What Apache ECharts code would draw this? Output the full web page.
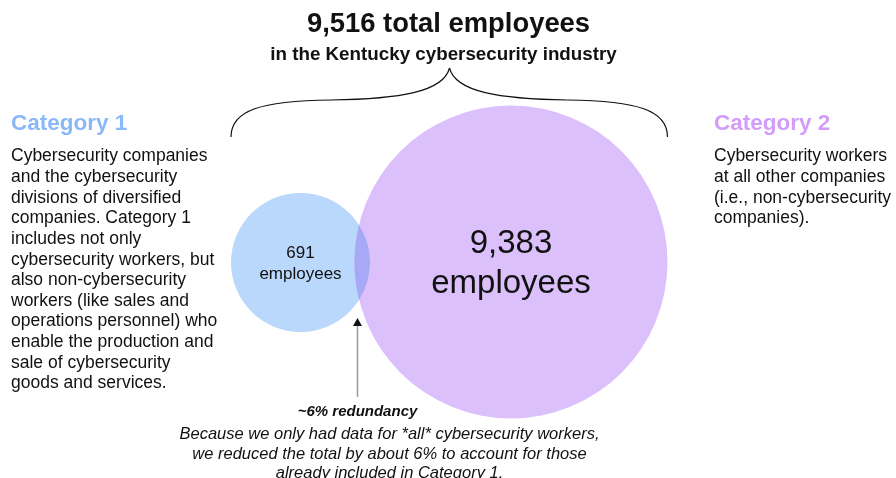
<!DOCTYPE html>
<html>
<head>
<meta charset="utf-8">
<script src="https://cdn.jsdelivr.net/npm/echarts@6/dist/echarts.min.js"></script>
<style>
  html, body { margin: 0; padding: 0; background: #fff; }
  #chart { width: 896px; height: 478px; }
</style>
</head>
<body>
<div id="chart"></div>
<script>
// Employee counts per category
const categories = ['Category 1', 'Category 2'];
const employees = [691, 9383];
const totalEmployees = 9516;
const redundancyPct = 6;

// Descriptions shown beside each category
const descriptions = [
  ['Cybersecurity companies', 'and the cybersecurity', 'divisions of diversified',
   'companies. Category 1', 'includes not only', 'cybersecurity workers, but',
   'also non-cybersecurity', 'workers (like sales and', 'operations personnel) who',
   'enable the production and', 'sale of cybersecurity', 'goods and services.'],
  ['Cybersecurity workers', 'at all other companies', '(i.e., non-cybersecurity', 'companies).']
];
const noteLines = [
  'Because we only had data for *all* cybersecurity workers,',
  'we reduced the total by about 6% to account for those',
  'already included in Category 1.'
];

// Diagram geometry (axis units): circle centres and radii
const layout = {
  cx: [300.5, 511],
  cy: [262.5, 262],
  r: [69.5, 156.5]
};
const fills = ['#bad8fb', '#dcc0fb'];
const overlapFill = '#a7a8f6';
const headColors = ['#8ab8f8', '#d39cf9'];
const labelFont = [17, 33];
const labelBase = [-3.5, -7];   // first label baseline relative to centre
const labelGap = [21, 40];

const FONT = '"Liberation Sans", Arial, Helvetica, sans-serif';
const fmt = v => v.toLocaleString('en-US');
// y for a 'middle'-aligned text so that its baseline lands on b
const mid = (b, fs) => b - 0.3465 * fs;

const chart = echarts.init(document.getElementById('chart'), null, { renderer: 'canvas' });

const circleData = categories.map((c, i) => ({
  name: c,
  value: [layout.cx[i], layout.cy[i], layout.r[i], employees[i]]
}));

// Lens-shaped path where two circles intersect (pixel space)
function lensPath(c1, r1, c2, r2) {
  const dx = c2[0] - c1[0], dy = c2[1] - c1[1];
  const d = Math.sqrt(dx * dx + dy * dy);
  if (d >= r1 + r2 || d <= Math.abs(r1 - r2)) return null;
  const a = (r1 * r1 - r2 * r2 + d * d) / (2 * d);
  const h = Math.sqrt(r1 * r1 - a * a);
  const mx = c1[0] + a * dx / d, my = c1[1] + a * dy / d;
  const p1 = [mx + h * dy / d, my - h * dx / d];
  const p2 = [mx - h * dy / d, my + h * dx / d];
  return 'M' + p1[0] + ' ' + p1[1] +
    ' A' + r1 + ' ' + r1 + ' 0 0 1 ' + p2[0] + ' ' + p2[1] +
    ' A' + r2 + ' ' + r2 + ' 0 0 1 ' + p1[0] + ' ' + p1[1] + ' Z';
}

function renderCircle(params, api) {
  const i = params.dataIndex;
  const c = api.coord([api.value(0), api.value(1)]);
  const r = api.size([api.value(2), 0])[0];
  const fs = labelFont[i];
  const b0 = c[1] + labelBase[i];
  const children = [{
    type: 'circle',
    shape: { cx: c[0], cy: c[1], r: r },
    style: { fill: fills[i] }
  }];
  if (i > 0) {
    const prev = circleData[i - 1].value;
    const pc = api.coord([prev[0], prev[1]]);
    const pr = api.size([prev[2], 0])[0];
    const d = lensPath(pc, pr, c, r);
    if (d) {
      children.push({ type: 'path', shape: { pathData: d }, style: { fill: overlapFill } });
    }
  }
  children.push(
    {
      type: 'text',
      style: {
        text: fmt(api.value(3)),
        x: c[0], y: mid(b0, fs),
        align: 'center', verticalAlign: 'middle',
        font: fs + 'px ' + FONT, fill: '#111'
      }
    },
    {
      type: 'text',
      style: {
        text: 'employees',
        x: c[0], y: mid(b0 + labelGap[i], fs),
        align: 'center', verticalAlign: 'middle',
        font: fs + 'px ' + FONT, fill: '#111'
      }
    }
  );
  return { type: 'group', children: children };
}

function textEl(text, x, b, size, weight, fill, align) {
  return {
    type: 'text', silent: true,
    style: {
      text: text, x: x, y: mid(b, size),
      font: weight + ' ' + size + 'px ' + FONT,
      fill: fill, align: align || 'left', verticalAlign: 'middle'
    }
  };
}

chart.setOption({
  animation: false,
  grid: { left: 0, right: 0, top: 0, bottom: 0 },
  xAxis: { type: 'value', min: 0, max: 896, show: false },
  yAxis: { type: 'value', min: 0, max: 478, inverse: true, show: false },
  series: [{
    type: 'custom',
    renderItem: renderCircle,
    data: circleData,
    silent: true
  }]
});

// Brace spanning both circles, built from the circles' extents
const leftX = chart.convertToPixel({ gridIndex: 0 }, [layout.cx[0] - layout.r[0], 0])[0];
const rightX = chart.convertToPixel({ gridIndex: 0 }, [layout.cx[1] + layout.r[1], 0])[0];
const midX = 449.5;
const yEnd = 137, yFlat = 100, yTip = 68;
const braceSegs = [
  { x1: leftX, y1: yEnd, cpx1: leftX, cpy1: yFlat + 10, cpx2: leftX + 30, cpy2: yFlat + 1, x2: leftX + 100, y2: yFlat },
  { x1: leftX + 100, y1: yFlat, cpx1: midX - 50, cpy1: yFlat - 1, cpx2: midX - 6, cpy2: yFlat - 8, x2: midX, y2: yTip },
  { x1: midX, y1: yTip, cpx1: midX + 6, cpy1: yFlat - 8, cpx2: midX + 50, cpy2: yFlat - 1, x2: rightX - 100, y2: yFlat },
  { x1: rightX - 100, y1: yFlat, cpx1: rightX - 30, cpy1: yFlat + 1, cpx2: rightX, cpy2: yFlat + 10, x2: rightX, y2: yEnd }
];

const arrowX = 357.5;
const graphics = [
  textEl(fmt(totalEmployees) + ' total employees', 448.5, 34, 27.4, 'bold', '#111', 'center'),
  textEl('in the Kentucky cybersecurity industry', 443.5, 61, 18.8, 'bold', '#111', 'center'),
  textEl(categories[0], 11, 132, 22.5, 'bold', headColors[0]),
  textEl(categories[1], 714, 132, 22.5, 'bold', headColors[1]),
  {
    type: 'line', silent: true,
    shape: { x1: arrowX, y1: 397, x2: arrowX, y2: 324 },
    style: { stroke: '#999', lineWidth: 1.5 }
  },
  {
    type: 'polygon', silent: true,
    shape: { points: [[arrowX, 318], [arrowX - 4.5, 326], [arrowX + 4.5, 326]] },
    style: { fill: '#111' }
  },
  textEl('~' + redundancyPct + '% redundancy', 357.5, 417, 15, 'italic bold', '#111', 'center')
];
braceSegs.forEach(s => {
  graphics.push({
    type: 'bezierCurve', silent: true,
    shape: s,
    style: { fill: 'none', stroke: '#111', lineWidth: 1.2 }
  });
});
descriptions[0].forEach((line, k) => {
  graphics.push(textEl(line, 11, 162.5 + k * 20.65, 17.5, 'normal', '#111'));
});
descriptions[1].forEach((line, k) => {
  graphics.push(textEl(line, 714, 162.5 + k * 20.65, 17.5, 'normal', '#111'));
});
noteLines.forEach((line, k) => {
  graphics.push(textEl(line, 389.5, 440.5 + k * 19.2, 16.5, 'italic', '#111', 'center'));
});

chart.setOption({ graphic: { elements: graphics } });
</script>
</body>
</html>
